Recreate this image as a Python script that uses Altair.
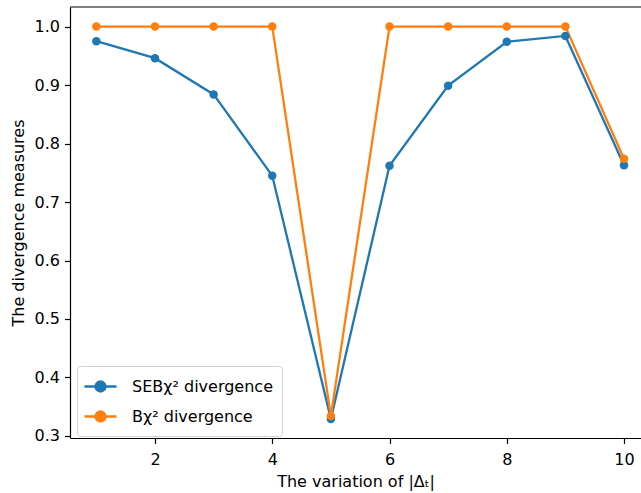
import altair as alt
import pandas as pd

x_vals = [1, 2, 3, 4, 5, 6, 7, 8, 9, 10]
seb_vals = [0.975, 0.946, 0.884, 0.745, 0.329, 0.762, 0.899, 0.974, 0.984, 0.763]
b_vals = [1.0, 1.0, 1.0, 1.0, 0.334, 1.0, 1.0, 1.0, 1.0, 0.774]
series_names = ["SEBχ² divergence", "Bχ² divergence"]
colors = ["#1f77b4", "#ff7f0e"]

rows = []
for name, vals in zip(series_names, [seb_vals, b_vals]):
    for xv, yv in zip(x_vals, vals):
        rows.append({"x": xv, "y": yv, "series": name})
df = pd.DataFrame(rows)

W, H = 571, 431
FONT = "DejaVu Sans"
FS = 16

# legend glyph: short line with a dot, centred slightly right of the nominal symbol box
sym = "M-1.3,0L1.9,0M0.8,0A0.5,0.5,0,1,1,-0.2,0A0.5,0.5,0,1,1,0.8,0Z"

lines = alt.Chart(df).mark_line(
    strokeWidth=2.3,
    point=alt.OverlayMarkDef(filled=True, size=72, opacity=1),
).encode(
    x=alt.X("x:Q", scale=alt.Scale(domain=[0.55, 10.29], nice=False, zero=False),
            axis=alt.Axis(values=[2, 4, 6, 8, 10], format="d", labelPadding=8,
                          titlePadding=6, title="The variation of |Δₜ|")),
    y=alt.Y("y:Q", scale=alt.Scale(domain=[0.2965, 1.0335], nice=False, zero=False),
            axis=alt.Axis(values=[0.3, 0.4, 0.5, 0.6, 0.7, 0.8, 0.9, 1.0], format=".1f",
                          labelPadding=5, titlePadding=8,
                          title="The divergence measures")),
    color=alt.Color("series:N", scale=alt.Scale(domain=series_names, range=colors),
                    sort=series_names,
                    legend=alt.Legend(title=None, orient="none", legendX=7, legendY=359,
                                      symbolType=sym, symbolSize=400, symbolStrokeWidth=2.3,
                                      labelFontSize=FS, labelFont=FONT, labelColor="black",
                                      rowPadding=8, padding=9, fillColor="white",
                                      strokeColor="#d0d0d0", cornerRadius=3,
                                      labelOffset=23)),
)

top_border = alt.Chart(pd.DataFrame({"a": [0]})).mark_rule(color="black", strokeWidth=1.2).encode(
    x=alt.value(0), x2=alt.value(W), y=alt.value(0)
)

chart = alt.layer(lines, top_border).properties(
    width=W, height=H,
    padding={"left": 70, "top": 7, "right": 0, "bottom": 55},
    autosize=alt.AutoSizeParams(type="none"),
).configure_view(stroke=None).configure_axis(
    domainColor="black", domainWidth=1.2, tickColor="black", tickWidth=1.2, tickSize=5.5,
    labelFont=FONT, labelFontSize=FS, labelColor="black",
    titleFont=FONT, titleFontSize=FS, titleFontWeight="normal", titleColor="black",
    grid=False,
)

chart.save("out.html", embed_options={"renderer": "svg", "actions": False})
